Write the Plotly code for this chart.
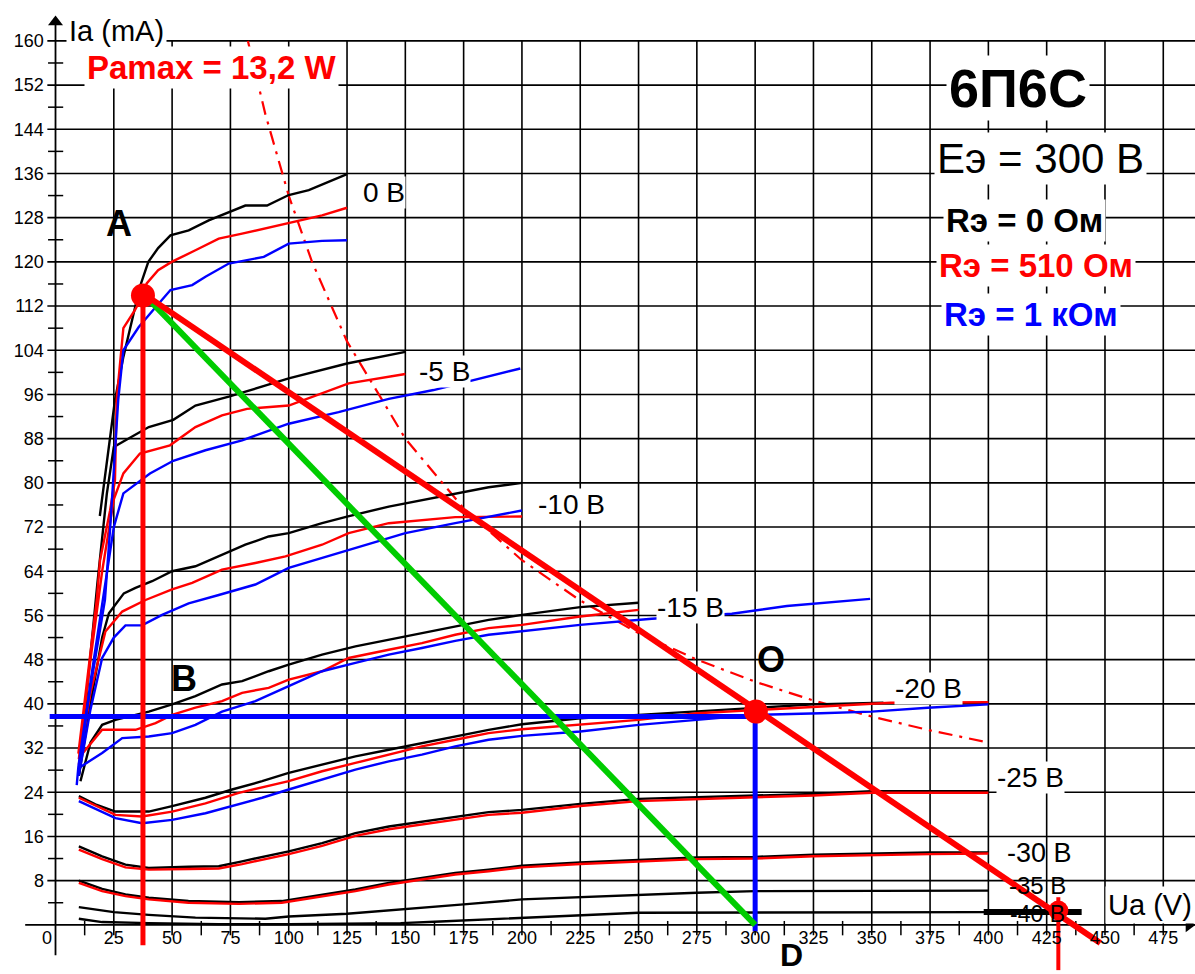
import plotly.graph_objects as go

# ---------------- data (Ua in V, Ia in mA) ----------------
# Ug = 0 V
ua_0_blk = [19, 23.4, 25.5, 29.1, 33, 36.2, 39.8, 44, 49.3, 57.1, 65.7, 74.3, 81.4, 90.7, 100, 108.6, 125]
ia_0_blk = [74, 87.7, 95, 102.8, 110, 115.5, 120, 122.5, 124.8, 125.7, 127.5, 129, 130.2, 130.2, 132.1, 133, 135.9]
ua_0_red = [9.8, 17.7, 19.1, 23.4, 25.5, 26.2, 29.1, 34.1, 37.5, 39.1, 44, 49.8, 60, 70, 80, 100, 114.3, 125]
ia_0_red = [31, 58.8, 66, 75, 80.5, 95, 108, 111.3, 114, 116.1, 118.5, 120, 122.1, 124.2, 125.1, 127, 128.4, 129.8]
ua_0_blu = [9.1, 9.8, 12.7, 21.2, 23.4, 25.5, 26.9, 29.1, 35.7, 42.9, 49.3, 58.6, 64.3, 74.3, 89.3, 100, 114.3, 125]
ia_0_blu = [25.3, 28.6, 37.1, 58.8, 71.6, 85.9, 95, 104, 108.2, 111.8, 114.9, 115.8, 117.3, 119.7, 120.9, 123.3, 123.8, 123.9]

# Ug = -5 V
ua_5_blk = [10, 14, 18, 22, 25, 29.1, 40, 50.5, 60, 74.3, 100, 125, 150]
ia_5_blk = [27, 45, 62, 78, 86.5, 87.5, 90.1, 91.4, 94, 95.6, 98.9, 101.6, 103.7]
ua_5_red = [10, 15, 20, 25, 29.1, 36.2, 49.1, 60, 71.4, 82.1, 100, 125.7, 150]
ia_5_red = [30, 48, 64, 77, 81.7, 85.3, 86.8, 90.1, 92.2, 93.4, 94, 98, 99.7]
ua_5_blu = [10, 15, 20, 25, 29.1, 40.5, 50.5, 64.3, 80, 100, 121.4, 142.9, 162.1, 180.7, 199.3]
ia_5_blu = [27, 44, 58, 72, 78.1, 81.7, 84, 85.9, 87.7, 90.7, 92.8, 95.2, 96.8, 98.7, 100.7]

# Ug = -10 V
ua_10_blk = [10, 15, 20, 22.9, 29.3, 34.3, 41.4, 50, 60, 71.4, 81.4, 91.4, 100, 114.3, 125, 142.9, 157.1, 171.4, 185.7, 200]
ia_10_blk = [27, 40, 52, 56.4, 60, 61, 62.2, 64, 64.9, 67, 68.8, 70.3, 70.9, 72.7, 73.9, 75.7, 76.9, 78.1, 79.2, 80]
ua_10_red = [10, 15, 21.4, 28.6, 38.6, 50, 58.6, 71.4, 85.7, 98.6, 114.3, 125.7, 142.9, 157.1, 171.4, 200]
ia_10_red = [29, 42, 53.1, 56.7, 58.8, 60.7, 61.9, 64.3, 65.5, 66.7, 68.8, 70.9, 72.7, 73.3, 73.8, 73.9]
ua_10_blu = [10, 15, 20, 25, 30, 37.1, 45.7, 57.1, 70, 85.7, 100, 114.3, 135.7, 150, 171.4, 185.7, 200]
ia_10_blu = [27, 39, 48.3, 52, 54.2, 54.2, 56.1, 58.2, 59.7, 61.6, 64.6, 66.4, 69.1, 70.9, 72.7, 73.9, 75]

# Ug = -15 V
ua_15_blk = [10.7, 15, 20, 25.7, 40, 50, 60, 71.4, 80, 91.4, 100, 114.3, 128.6, 142.9, 157.1, 171.4, 185.7, 200, 225, 250]
ia_15_blk = [26, 33, 36.2, 37.1, 38.6, 39.9, 41.4, 43.5, 44.1, 45.9, 47.1, 48.9, 50.4, 51.6, 52.8, 54, 55.2, 56.1, 57.5, 58.3]
ua_15_red = [10, 20, 34.3, 42.9, 50, 60, 71.4, 80, 91.4, 100, 114.3, 125.7, 142.9, 157.1, 171.4, 185.7, 200, 225, 250]
ia_15_red = [30.2, 35.3, 35.3, 36.5, 38, 39.3, 40.5, 42, 42.9, 44.4, 45.9, 48.3, 49.8, 51, 52.5, 53.7, 54.3, 55.8, 57]
ua_15_blu = [10, 14.3, 20, 28.6, 40, 50, 60, 71.4, 85.7, 100, 114.3, 128.6, 142.9, 157.1, 171.4, 185.7, 205.7, 224.9, 255.7, 290, 313.6, 349.3]
ia_15_blu = [28.4, 29.6, 31.1, 33.8, 34.1, 34.7, 36.2, 38.6, 40.5, 43.2, 45.9, 47.4, 48.9, 50.1, 51.4, 52.5, 53.4, 54.3, 55.4, 56.3, 57.7, 59]

# Ug = -20 V
ua_20_blk = [10, 17.1, 25.7, 40, 50, 64.3, 75.7, 88.6, 100, 114.3, 128.6, 142.9, 157.1, 171.4, 185.7, 200, 225, 250, 275, 300, 325, 355]
ia_20_blk = [23.3, 21.8, 20.5, 20.5, 21.5, 23, 24.5, 26, 27.5, 29, 30.5, 31.7, 32.9, 34.1, 35.3, 36.3, 37.4, 38, 38.6, 39.2, 39.9, 40.2]
ua_20_red = [10, 25.7, 37.1, 50, 64.3, 78.6, 100, 114.3, 128.6, 142.9, 157.1, 171.4, 185.7, 200, 225, 250, 275, 300, 328, 358, 400]
ia_20_red = [23, 19.9, 19.6, 20.5, 22, 23.9, 26, 27.8, 29.3, 30.8, 32.3, 33.5, 34.7, 35.4, 36.2, 37.1, 38.3, 38.9, 39.5, 40.2, 40.3]
ua_20_blu = [10, 25.7, 37.1, 50, 64.3, 75.7, 88.6, 100, 114.3, 128.6, 142.9, 157.1, 171.4, 185.7, 200, 225, 250, 275, 300, 328, 350, 374, 400]
ia_20_blu = [22.4, 19.3, 18.4, 19, 20.2, 21.5, 23, 24.5, 26.3, 28.1, 29.6, 30.8, 32.3, 33.5, 34.2, 35, 36.2, 37.1, 38, 38.3, 38.6, 39.3, 39.9]

# Ug = -25 V
ua_25_blk = [10, 20, 30, 40, 57.1, 70, 80, 100, 114.3, 128.6, 142.9, 157.1, 171.4, 185.7, 200, 225, 250, 275, 300, 325, 350, 400]
ia_25_blk = [14.2, 12.4, 10.9, 10.3, 10.5, 10.6, 11.5, 13.3, 14.8, 16.6, 17.8, 18.7, 19.6, 20.4, 20.8, 21.9, 22.8, 23.1, 23.4, 23.7, 24.2, 24.2]
ua_25_red = [10, 20, 30, 40, 57.1, 70, 80, 100, 114.3, 128.6, 142.9, 157.1, 171.4, 185.7, 200, 225, 250, 275, 300, 325, 350, 400]
ia_25_red = [13.6, 11.9, 10.4, 10, 10.1, 10.2, 11, 12.8, 14.3, 16.1, 17.3, 18.2, 19.1, 19.9, 20.3, 21.5, 22.4, 22.8, 23.1, 23.4, 23.9, 23.9]

# Ug = -30 V
ua_30_blk = [10, 20, 30, 40, 57, 78.6, 97, 114.3, 128.6, 142.9, 157.1, 171.4, 185.7, 200, 225, 250, 275, 300, 325, 375, 400]
ia_30_blk = [8, 6.5, 5.5, 4.9, 4.3, 4.1, 4.3, 5.5, 6.4, 7.6, 8.5, 9.4, 10, 10.7, 11.3, 11.8, 12.2, 12.3, 12.7, 13.1, 13.1]
ua_30_red = [10, 20, 30, 40, 57, 78.6, 97, 114.3, 128.6, 142.9, 157.1, 171.4, 185.7, 200, 225, 250, 275, 300, 325, 375, 400]
ia_30_red = [7.6, 6.1, 5.2, 4.6, 4.0, 3.8, 4.0, 5.2, 6.1, 7.3, 8.2, 9.1, 9.7, 10.4, 11.0, 11.5, 11.9, 12.0, 12.4, 12.8, 12.9]

# Ug = -35 V
ua_35_blk = [10, 25, 40, 60, 90, 100, 125, 150, 175, 200, 225, 250, 275, 300, 400]
ia_35_blk = [3.2, 2.3, 1.8, 1.3, 1.1, 1.5, 2.0, 2.8, 3.7, 4.6, 5.0, 5.5, 5.8, 6.1, 6.2]

# Ug = -40 V
ua_40_blk = [10, 20, 40, 70, 100, 148, 165, 185, 200, 225, 250, 400]
ia_40_blk = [1.1, 0.5, 0.3, 0.1, 0.1, 0.3, 0.6, 1.0, 1.2, 1.8, 2.2, 2.3]
ua_40_ext = [398, 440]
ia_40_ext = [2.3, 2.3]

# Max anode dissipation curve (Pa max = 13.2 W)
ua_pmax = [82.5, 90, 100, 110, 125, 150, 175, 200, 225, 250, 275, 300, 325, 350, 375, 400]
ia_pmax = [160, 146.7, 132, 120, 105.6, 88, 75.4, 66, 58.7, 52.8, 48, 44, 40.6, 37.7, 35.2, 33]

# Load lines and construction lines
ua_load = [37.5, 448]
ia_load = [114.3, -3.3]
ua_green = [37.5, 300]
ia_green = [114.3, 0]
ua_vA = [37.5, 37.5]
ia_vA = [114.3, -3.7]
ua_hB = [-2.5, 300]
ia_hB = [37.7, 37.7]
ua_vO = [300, 300]
ia_vO = [38.6, -1.2]
ua_v430 = [430, 430]
ia_v430 = [5, -8.2]
pts_u = [37.5, 300.3, 430]
pts_i = [113.9, 38.6, 2.6]

# axes ticks
x_ticks = list(range(25, 476, 25))
y_ticks = list(range(8, 161, 8))
x_minor = [12.5 + 25 * k for k in range(19)]
y_minor = [4 + 8 * k for k in range(20)]

# curve labels
lab_text = ["0 В", "-5 В", "-10 В", "-15 В", "-20 В", "-25 В", "-30 В", "-35 В", "-40 В"]
lab_u = [140.9, 167, 221.3, 272.3, 374.5, 418, 422, 421, 421]
lab_i = [132.5, 100.1, 76.1, 57.4, 42.7, 26.6, 13.0, 7.2, 1.9]
lab_bg = ["white", "white", "white", "white", "white", "white", None, None, None]
lab_size = [28, 28, 28, 28, 28, 28, 27, 24, 23]

# ---------------- figure ----------------
BLACK, RED, BLUE, GREEN = "#000000", "#ff0000", "#0000ff", "#00cc00"
fig = go.Figure()

XR = [-23.8, 488.6]
YR = [-8.9, 167.4]

shapes = []
for y in y_ticks:
    shapes.append(dict(type="line", xref="x", yref="y", x0=-3.5, x1=XR[1], y0=y, y1=y,
                       line=dict(color="black", width=1.6), layer="below"))
for x in x_ticks:
    shapes.append(dict(type="line", xref="x", yref="y", x0=x, x1=x, y0=-1.9, y1=160,
                       line=dict(color="black", width=1.6), layer="below"))
for x in x_minor:
    shapes.append(dict(type="line", xref="x", yref="y", x0=x, x1=x, y0=-1.9, y1=0.7,
                       line=dict(color="black", width=1.5), layer="below"))
for y in y_minor:
    shapes.append(dict(type="line", xref="x", yref="y", x0=-3.2, x1=3.3, y0=y, y1=y,
                       line=dict(color="black", width=1.5), layer="below"))
# axis lines
shapes.append(dict(type="line", xref="x", yref="y", x0=0, x1=0, y0=-5.5, y1=163,
                   line=dict(color="black", width=1.8), layer="below"))
shapes.append(dict(type="line", xref="x", yref="y", x0=-13, x1=XR[1], y0=0, y1=0,
                   line=dict(color="black", width=1.8), layer="below"))


def curve(u, i, color, width=2.4, dash=None):
    fig.add_trace(go.Scatter(x=u, y=i, mode="lines",
                             line=dict(color=color, width=width, dash=dash),
                             hoverinfo="skip"))


# Pmax hyperbola
curve(ua_pmax, ia_pmax, RED, 2.2, "14px,7px,3px,7px")

for (u, i, c) in [
    (ua_40_blk, ia_40_blk, BLACK), (ua_35_blk, ia_35_blk, BLACK),
    (ua_30_blk, ia_30_blk, BLACK), (ua_30_red, ia_30_red, RED),
    (ua_25_blk, ia_25_blk, BLACK), (ua_25_red, ia_25_red, RED),
    (ua_20_blk, ia_20_blk, BLACK), (ua_20_red, ia_20_red, RED), (ua_20_blu, ia_20_blu, BLUE),
    (ua_15_blk, ia_15_blk, BLACK), (ua_15_red, ia_15_red, RED), (ua_15_blu, ia_15_blu, BLUE),
    (ua_10_blk, ia_10_blk, BLACK), (ua_10_red, ia_10_red, RED), (ua_10_blu, ia_10_blu, BLUE),
    (ua_5_blk, ia_5_blk, BLACK), (ua_5_red, ia_5_red, RED), (ua_5_blu, ia_5_blu, BLUE),
    (ua_0_blk, ia_0_blk, BLACK), (ua_0_red, ia_0_red, RED), (ua_0_blu, ia_0_blu, BLUE),
]:
    curve(u, i, c)

curve(ua_40_ext, ia_40_ext, BLACK, 6)

# construction lines
curve(ua_hB, ia_hB, BLUE, 5)
curve(ua_vO, ia_vO, BLUE, 5)
curve(ua_vA, ia_vA, RED, 5)
curve(ua_green, ia_green, GREEN, 6)
curve(ua_load, ia_load, RED, 6)
curve(ua_v430, ia_v430, RED, 4)

fig.add_trace(go.Scatter(x=pts_u, y=pts_i, mode="markers",
                         marker=dict(color=RED, size=[24, 24, 20], opacity=1,
                                     line=dict(width=0)),
                         hoverinfo="skip", cliponaxis=False))
# axis arrows
fig.add_trace(go.Scatter(x=[0, 486], y=[163.4, 0], mode="markers",
                         marker=dict(color="black", size=13, opacity=1, line=dict(width=0),
                                     symbol=["triangle-up", "triangle-right"]),
                         hoverinfo="skip", cliponaxis=False))

ann = []
FONT = "Liberation Sans, Arial, sans-serif"
for t, u, i, bg, sz in zip(lab_text, lab_u, lab_i, lab_bg, lab_size):
    ann.append(dict(x=u, y=i, xref="x", yref="y", text=t, showarrow=False,
                    font=dict(family=FONT, size=sz, color="black"),
                    bgcolor=bg, borderpad=0))


def text(t, u, i, size, color="black", bold=False, bg=None, **kw):
    d = dict(x=u, y=i, xref="x", yref="y", text=(f"<b>{t}</b>" if bold else t),
             showarrow=False, font=dict(family=FONT, size=size, color=color),
             bgcolor=bg, borderpad=2)
    d.update(kw)
    ann.append(d)


text("A", 27.2, 127, 36, bold=True)
text("B", 54.9, 44.5, 36, bold=True)
text("O", 306.8, 48.1, 36, bold=True)
text("D", 315.5, 0, 32, bold=True, yref="paper", yanchor="bottom", borderpad=0)
text("Pamax = 13,2 W", 67.1, 155.2, 33, RED, True, "white")
text("Ia (mA)", 26, 161.8, 29, bg="white")
text("Ua (V)", 469.3, 3.6, 29, bg="white")
text("0", -3.6, -2.3, 18)
text("6П6С", 412.5, 151.5, 54, bold=True, bg="white")
text("Eэ = 300 В", 422.2, 138.8, 42, bg="white")
text("Rэ = 0 Ом", 415.7, 127.4, 33, bold=True, bg="white")
text("Rэ = 510 Ом", 420.4, 119.4, 33, RED, True, "white")
text("Rэ = 1 кОм", 418.3, 110.4, 33, BLUE, True, "white")

fig.update_layout(
    width=1195, height=974,
    margin=dict(l=0, r=0, t=0, b=0),
    paper_bgcolor="white", plot_bgcolor="white",
    showlegend=False,
    shapes=shapes, annotations=ann,
    xaxis=dict(range=XR, anchor="free", position=8.9 / 176.3, showgrid=False, zeroline=False,
               showline=False, tickmode="array", tickvals=x_ticks,
               ticks="", tickfont=dict(family=FONT, size=18, color="black")),
    yaxis=dict(range=YR, anchor="free", position=23.8 / 512.4, showgrid=False, zeroline=False,
               showline=False, tickmode="array", tickvals=y_ticks,
               ticks="outside", ticklen=8, tickcolor="rgba(0,0,0,0)",
               tickfont=dict(family=FONT, size=18, color="black")),
)

fig.write_html("out.html", config={"displayModeBar": False},
               post_script="document.body.style.margin='0px';")
